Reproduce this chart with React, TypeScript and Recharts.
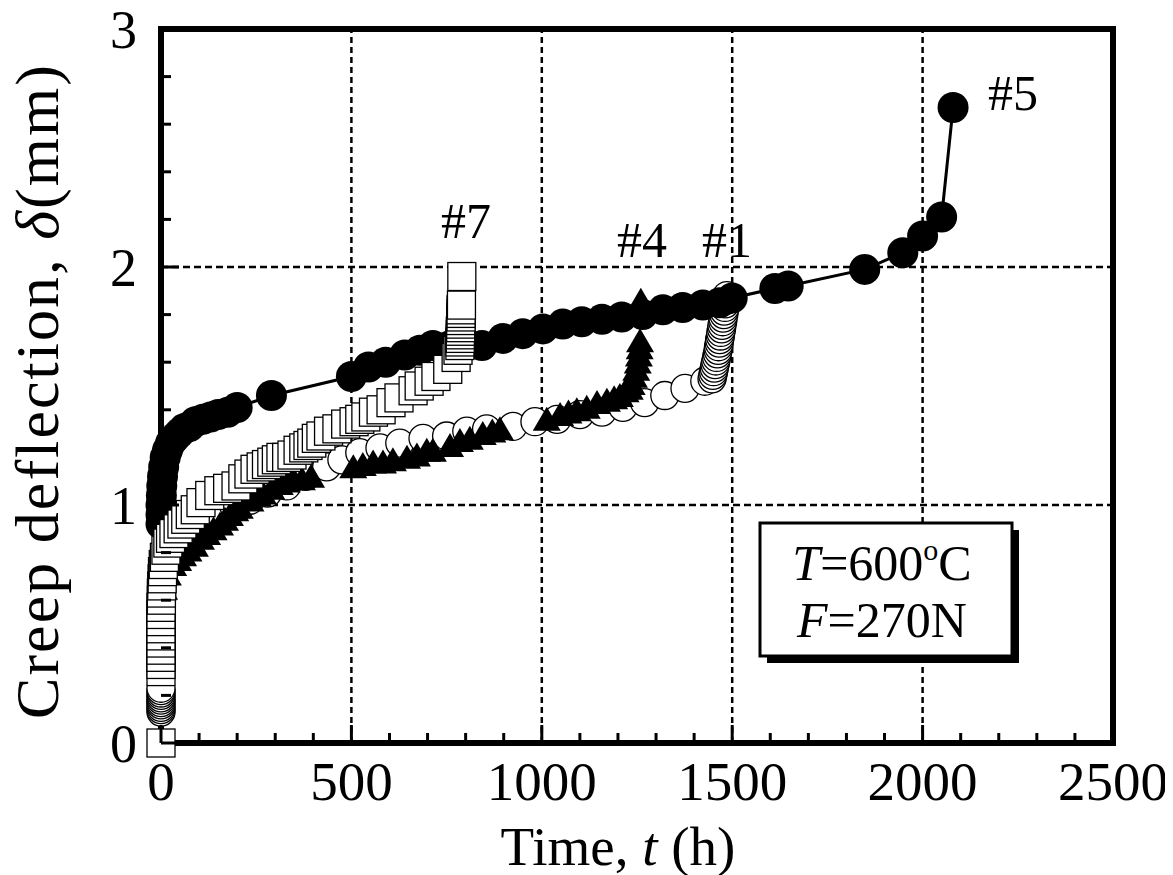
import React from 'react';
import { ScatterChart, Scatter, XAxis, YAxis, ReferenceLine } from 'recharts';

const FONT = '"Liberation Serif", "Times New Roman", serif';

// Time t (h), creep deflection δ (mm)
const series1: [number, number][] = [
  [0, 0.13], [0, 0.14], [0, 0.15], [0, 0.16], [0, 0.17], [0, 0.18], [0, 0.19], [0, 0.2], [0, 0.21], [0, 0.22], [0, 0.23],
  [1, 0.6], [3, 0.7], [8, 0.78], [20, 0.84], [40, 0.88], [70, 0.92], [110, 0.95], [150, 0.97], [190, 1.0],
  [234, 1.02], [280, 1.05], [330, 1.08], [380, 1.12], [435, 1.16], [475, 1.19], [522, 1.22], [575, 1.24],
  [627, 1.26], [688, 1.28], [750, 1.29], [803, 1.31], [855, 1.32], [924, 1.33], [982, 1.35], [1040, 1.36],
  [1100, 1.38], [1158, 1.39], [1213, 1.41], [1270, 1.43], [1323, 1.46], [1376, 1.49], [1428, 1.52],
  [1447, 1.53], [1449, 1.545], [1451, 1.56], [1453, 1.575], [1455, 1.59], [1457, 1.605], [1459, 1.62],
  [1461, 1.635], [1463, 1.65], [1464, 1.665], [1466, 1.68], [1467, 1.695], [1469, 1.71], [1470, 1.725],
  [1472, 1.74], [1473, 1.755], [1475, 1.77], [1476, 1.785], [1478, 1.8], [1479, 1.815], [1481, 1.83],
  [1482, 1.845], [1484, 1.86], [1486, 1.88],
];

const series4: [number, number][] = [
  [2, 0.55], [8, 0.64], [18, 0.7], [32, 0.74], [45, 0.76], [58, 0.78], [72, 0.8], [89, 0.82], [105, 0.85],
  [121, 0.87], [138, 0.89], [155, 0.91], [168, 0.93], [181, 0.95], [195, 0.97], [207, 0.98], [235, 1.01],
  [255, 1.03], [268, 1.04], [290, 1.06], [312, 1.08], [330, 1.09], [347, 1.1], [370, 1.1], [394, 1.11],
  [505, 1.15], [530, 1.16], [557, 1.17], [583, 1.17], [609, 1.18], [646, 1.19], [672, 1.2], [698, 1.22],
  [714, 1.22], [759, 1.24], [785, 1.26], [811, 1.27], [845, 1.29], [870, 1.3], [890, 1.31], [1013, 1.35],
  [1048, 1.37], [1070, 1.38], [1092, 1.39], [1118, 1.4], [1145, 1.42], [1171, 1.43], [1190, 1.44],
  [1205, 1.45], [1220, 1.47], [1231, 1.48], [1236, 1.5], [1242, 1.53], [1248, 1.56], [1252, 1.59],
  [1255, 1.62], [1257, 1.65], [1258, 1.68], [1260, 1.85],
];

const series5: [number, number][] = [
  [0, 0.92], [0, 0.96], [0, 1.0], [1, 1.04], [2, 1.08], [4, 1.12], [7, 1.16], [11, 1.2], [17, 1.23],
  [25, 1.26], [35, 1.28], [47, 1.3], [60, 1.32], [75, 1.33], [90, 1.35], [110, 1.36], [130, 1.37],
  [150, 1.38], [175, 1.39], [200, 1.41], [290, 1.46], [500, 1.54], [545, 1.58], [590, 1.6], [640, 1.63],
  [680, 1.65], [714, 1.67], [760, 1.67], [800, 1.68], [843, 1.67], [898, 1.7], [950, 1.72], [1003, 1.74],
  [1055, 1.76], [1105, 1.77], [1158, 1.78], [1210, 1.79], [1265, 1.8], [1318, 1.82], [1370, 1.83],
  [1423, 1.84], [1467, 1.85], [1500, 1.87], [1612, 1.91], [1647, 1.92], [1848, 1.99], [1948, 2.06],
  [2000, 2.13], [2050, 2.21], [2080, 2.67],
];

const series7: [number, number][] = [
  [0, 0.0], [0, 0.3], [0, 0.33], [0, 0.36], [0, 0.39], [0, 0.42], [0, 0.45], [0, 0.48], [0, 0.51],
  [0, 0.54], [0, 0.57], [1, 0.6], [1, 0.63], [2, 0.66], [3, 0.69], [4, 0.72], [6, 0.75], [9, 0.78],
  [13, 0.81], [18, 0.84], [25, 0.86], [34, 0.88], [45, 0.9], [55, 0.92], [65, 0.94], [77, 0.96], [90, 0.98],
  [105, 1.01], [128, 1.04], [152, 1.06], [175, 1.07], [197, 1.08], [215, 1.11], [231, 1.13], [247, 1.15],
  [263, 1.16], [277, 1.17], [291, 1.18], [303, 1.19], [315, 1.2], [330, 1.2], [344, 1.21], [360, 1.23],
  [375, 1.24], [386, 1.25], [396, 1.26], [408, 1.28], [420, 1.29], [440, 1.31], [462, 1.32], [485, 1.34],
  [507, 1.35], [522, 1.36], [538, 1.37], [558, 1.39], [578, 1.4], [604, 1.43], [625, 1.45], [662, 1.48],
  [678, 1.5], [704, 1.52], [722, 1.54], [753, 1.57], [775, 1.62], [780, 1.65], [785, 1.67], [785, 1.685],
  [786, 1.7], [786, 1.715], [786, 1.73], [787, 1.745], [787, 1.76], [787, 1.775], [788, 1.79],
  [788, 1.805], [788, 1.82], [789, 1.84], [790, 1.96],
];

const xTicks = [0, 100, 200, 300, 400, 500, 600, 700, 800, 900, 1000, 1100, 1200, 1300, 1400, 1500,
  1600, 1700, 1800, 1900, 2000, 2100, 2200, 2300, 2400, 2500];
const xMajor = [0, 500, 1000, 1500, 2000, 2500];
const yTicks = [0, 0.2, 0.4, 0.6, 0.8, 1, 1.2, 1.4, 1.6, 1.8, 2, 2.2, 2.4, 2.6, 2.8, 3];
const yMajor = [0, 1, 2, 3];
const xGrid = [500, 1000, 1500, 2000];
const yGrid = [1, 2];

const toPts = (s: [number, number][]) => s.map(([t, d]) => ({ t, d }));

const MAJOR = 18;
const MINOR = 10;
const TICKW = 3;

const BottomTick = (p: any) => {
  const v = p.payload.value;
  const major = xMajor.includes(v);
  return (
    <g>
      <line x1={p.x} x2={p.x} y1={p.y} y2={p.y - (major ? MAJOR : MINOR)} stroke="#000" strokeWidth={TICKW} />
      {major && (
        <text x={p.x} y={p.y + 57} textAnchor="middle" fontSize={55} fontFamily={FONT} fill="#000">{v}</text>
      )}
    </g>
  );
};
const TopTick = (p: any) => {
  const v = p.payload.value;
  const major = xMajor.includes(v);
  return <line x1={p.x} x2={p.x} y1={p.y} y2={p.y + (major ? MAJOR : MINOR)} stroke="#000" strokeWidth={TICKW} />;
};
const LeftTick = (p: any) => {
  const v = p.payload.value;
  const major = yMajor.includes(v);
  return (
    <g>
      <line x1={p.x} x2={p.x + (major ? MAJOR : MINOR)} y1={p.y} y2={p.y} stroke="#000" strokeWidth={TICKW} />
      {major && (
        <text x={p.x - 24} y={p.y + 19} textAnchor="end" fontSize={54} fontFamily={FONT} fill="#000">{v}</text>
      )}
    </g>
  );
};
const RightTick = (p: any) => {
  const v = p.payload.value;
  const major = yMajor.includes(v);
  return <line x1={p.x} x2={p.x - (major ? MAJOR : MINOR)} y1={p.y} y2={p.y} stroke="#000" strokeWidth={TICKW} />;
};

const FilledCircle = (p: any) => <circle cx={p.cx} cy={p.cy} r={15.5} fill="#000" />;
const OpenCircle = (p: any) => <circle cx={p.cx} cy={p.cy} r={14} fill="#fff" stroke="#000" strokeWidth={1.3} />;
const Triangle = (p: any) => (
  <polygon points={`${p.cx},${p.cy - 15} ${p.cx + 14},${p.cy + 9} ${p.cx - 14},${p.cy + 9}`} fill="#000" />
);
const Square = (p: any) => (
  <rect x={p.cx - 14} y={p.cy - 14} width={28} height={28} fill="#fff" stroke="#000" strokeWidth={1.3} />
);

const axisLineStyle = { stroke: '#000', strokeWidth: 6, strokeLinecap: 'square' as const };

export default function App() {
  return (
    <div style={{ position: 'relative', width: 1165, height: 875, marginTop: -8 }}>
      <ScatterChart width={1165} height={875} margin={{ top: 0, right: 0, bottom: 0, left: 0 }}>
        <XAxis xAxisId={0} type="number" dataKey="t" domain={[0, 2500]} ticks={xTicks} interval={0}
          orientation="bottom" height={132} tickSize={0} tickMargin={0} tickLine={false}
          axisLine={axisLineStyle} tick={<BottomTick />} />
        <XAxis xAxisId="top" type="number" dataKey="t" domain={[0, 2500]} ticks={xTicks} interval={0}
          orientation="top" height={29} tickSize={0} tickMargin={0} tickLine={false}
          axisLine={axisLineStyle} tick={<TopTick />} />
        <YAxis yAxisId={0} type="number" dataKey="d" domain={[0, 3]} ticks={yTicks} interval={0}
          orientation="left" width={153} tickSize={0} tickMargin={0} tickLine={false}
          axisLine={axisLineStyle} tick={<LeftTick />} />
        <YAxis yAxisId="right" type="number" dataKey="d" domain={[0, 3]} ticks={yTicks} interval={0}
          orientation="right" width={60} tickSize={0} tickMargin={0} tickLine={false}
          axisLine={axisLineStyle} tick={<RightTick />} />
        {xGrid.map((v) => (
          <ReferenceLine key={'gx' + v} x={v} stroke="#000" strokeWidth={2.5} strokeDasharray="6 4" />
        ))}
        {yGrid.map((v) => (
          <ReferenceLine key={'gy' + v} y={v} stroke="#000" strokeWidth={2.5} strokeDasharray="7 4" />
        ))}
        <Scatter name="#1" data={toPts(series1)} shape={OpenCircle} isAnimationActive={false} />
        <Scatter name="#4" data={toPts(series4)} shape={Triangle} isAnimationActive={false} />
        <Scatter name="#5" data={toPts(series5)} shape={FilledCircle} line={{ stroke: '#000', strokeWidth: 3 }}
          lineType="joint" isAnimationActive={false} />
        <Scatter name="#7" data={toPts(series7)} shape={Square} isAnimationActive={false} />
      </ScatterChart>
      <svg width={1165} height={875} style={{ position: 'absolute', left: 0, top: 0, pointerEvents: 'none', overflow: 'visible' }}>
        <g fontFamily={FONT} fill="#000">
          <text x={458} y={238} fontSize={50} textAnchor="middle">#7</text>
          <text x={634} y={257} fontSize={50} textAnchor="middle">#4</text>
          <text x={719} y={257} fontSize={50} textAnchor="middle">#1</text>
          <text x={1005} y={110} fontSize={50} textAnchor="middle">#5</text>
          <text x={610} y={865} fontSize={55} textAnchor="middle">
            Time, <tspan fontStyle="italic">t</tspan> (h)
          </text>
          <text x={50} y={392} fontSize={62} textAnchor="middle" transform="rotate(-90 50 392)"
            textLength={654} lengthAdjust="spacing">
            Creep deflection, <tspan fontStyle="italic">δ</tspan>(mm)
          </text>
          <rect x={759} y={530} width={252} height={133} fill="#000" />
          <rect x={752} y={523} width={252} height={133} fill="#fff" stroke="#000" strokeWidth={3} />
          <text x={874} y={580} fontSize={50} textAnchor="middle">
            <tspan fontStyle="italic">T</tspan>=600<tspan fontSize={30} dy={-20}>o</tspan><tspan dy={20}>C</tspan>
          </text>
          <text x={874} y={637} fontSize={50} textAnchor="middle">
            <tspan fontStyle="italic">F</tspan>=270N
          </text>
        </g>
      </svg>
    </div>
  );
}
